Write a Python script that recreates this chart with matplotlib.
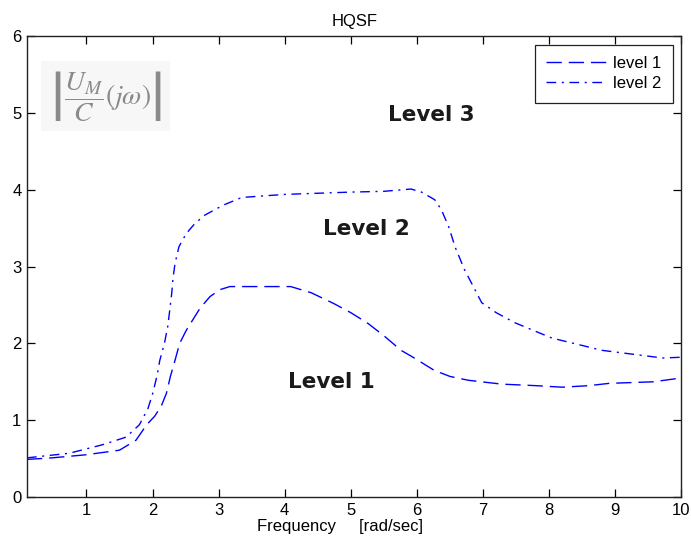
import matplotlib
matplotlib.use("Agg")
import matplotlib.pyplot as plt

plt.rcParams['font.family'] = ['Liberation Sans', 'DejaVu Sans']

x1 = [0.1, 0.48, 0.99, 1.5, 1.75, 1.91, 2.03, 2.13, 2.21, 2.27, 2.34, 2.41, 2.51, 2.64, 2.72, 2.87, 3.02, 3.17, 3.48,
      4.09, 4.4, 4.74, 5.0, 5.26, 5.5, 5.76, 5.96, 6.26, 6.5, 6.78, 7.28, 7.8, 8.2, 8.6, 8.91, 9.57, 10.0]
y1 = [0.49, 0.51, 0.55, 0.61, 0.74, 0.94, 1.05, 1.18, 1.35, 1.57, 1.78, 2.00, 2.17, 2.35, 2.46, 2.61, 2.70, 2.74, 2.74,
      2.74, 2.66, 2.52, 2.40, 2.26, 2.10, 1.91, 1.81, 1.65, 1.57, 1.52, 1.47, 1.45, 1.43, 1.45, 1.48, 1.50, 1.55]

x2 = [0.1, 0.74, 1.24, 1.6, 1.80, 1.93, 2.01, 2.07, 2.11, 2.18, 2.23, 2.26, 2.29, 2.31, 2.34, 2.40, 2.51, 2.64, 2.79,
      3.07, 3.35, 4.0, 5.0, 5.5, 5.91, 6.07, 6.27, 6.37, 6.48, 6.58, 6.72, 6.98, 7.2, 7.48, 8.04, 8.8, 9.72, 10.0]
y2 = [0.51, 0.57, 0.68, 0.78, 0.94, 1.15, 1.37, 1.59, 1.78, 2.00, 2.22, 2.43, 2.65, 2.85, 3.04, 3.26, 3.43, 3.56, 3.67,
      3.80, 3.90, 3.94, 3.97, 3.98, 4.01, 3.97, 3.87, 3.74, 3.52, 3.25, 2.96, 2.53, 2.40, 2.27, 2.07, 1.91, 1.81, 1.82]

series_labels = ['level 1', 'level 2']
region_labels = ['Level 3', 'Level 2', 'Level 1']
xticks = [1, 2, 3, 4, 5, 6, 7, 8, 9, 10]
yticks = [0, 1, 2, 3, 4, 5, 6]

fig = plt.figure(figsize=(6.91, 5.48), dpi=100)
ax = fig.add_axes([0.039, 0.093, 0.947, 0.841])

ax.plot(x1, y1, color='#0000ff', lw=1.0, dashes=(11, 5), label=series_labels[0])
ax.plot(x2, y2, color='#0000ff', lw=1.0, dashes=(7, 4, 1.5, 4), label=series_labels[1])

ax.set_xlim(0.1, 10)
ax.set_ylim(0, 6)
ax.set_xticks(xticks)
ax.set_yticks(yticks)
ax.tick_params(direction='in', top=True, right=True, length=6, labelsize=12, width=0.9, pad=4)
for s in ax.spines.values():
    s.set_linewidth(1.0)
    s.set_color('#222222')

ax.set_title('HQSF', fontsize=12, pad=7)
ax.set_xlabel('Frequency     [rad/sec]', fontsize=12, labelpad=1)
ax.xaxis.label.set_x(0.479)

for txt, (tx, ty) in zip(region_labels, [(6.22, 4.97), (5.23, 3.49), (4.7, 1.50)]):
    ax.text(tx, ty, txt, fontsize=15.5, fontweight='bold', family='DejaVu Sans',
            ha='center', va='center', color='#1a1a1a')

ax.text(1.29, 5.22, r'$\left|\dfrac{U_M}{C}(j\omega)\right|$', fontsize=20, color='#8a8a8a',
        math_fontfamily='stix', ha='center', va='center',
        bbox=dict(facecolor='#f7f7f7', edgecolor='none', pad=6))

leg = ax.legend(loc='upper right', fontsize=12, frameon=True, fancybox=False,
                handlelength=3.6, handletextpad=0.4, labelspacing=0.3,
                borderpad=0.7, borderaxespad=0.5)
leg.get_frame().set_edgecolor('#222222')
leg.get_frame().set_linewidth(0.9)
leg.get_frame().set_alpha(1.0)

fig.savefig('out.png', dpi=100)
